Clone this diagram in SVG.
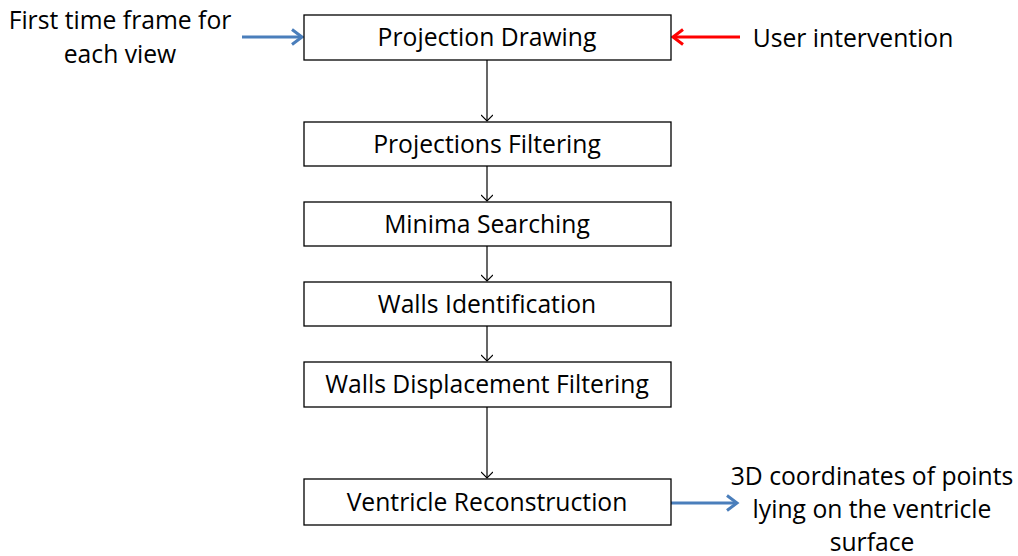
<svg xmlns="http://www.w3.org/2000/svg" width="1018" height="556" viewBox="0 0 1018 556">
<style>
.box{fill:#fff;stroke:#000;stroke-width:1.3}
.t{font-family:"Open Sans","Noto Sans",sans-serif;font-size:24.7px;fill:#000;text-anchor:middle}
.k{stroke:#000;stroke-width:1.2;fill:none}
.b{stroke:#4a7ebb;stroke-width:3;fill:none}
.r{stroke:#ff0000;stroke-width:3;fill:none}
</style>
<defs>
<marker id="ak" markerWidth="12" markerHeight="12" refX="10" refY="6" orient="auto" markerUnits="userSpaceOnUse"><path d="M4,0 L10,6 L4,12" fill="none" stroke="#000" stroke-width="1.2"/></marker>
<marker id="ab" markerWidth="18" markerHeight="18" refX="15" refY="9" orient="auto" markerUnits="userSpaceOnUse"><path d="M5,1.5 L15,9 L5,16.5" fill="none" stroke="#4a7ebb" stroke-width="3"/></marker>
<marker id="ar" markerWidth="18" markerHeight="18" refX="15" refY="9" orient="auto" markerUnits="userSpaceOnUse"><path d="M5,1.5 L15,9 L5,16.5" fill="none" stroke="#ff0000" stroke-width="3"/></marker>
</defs>
<g id="connectors">
<line class="b" x1="242" y1="37" x2="302" y2="37" marker-end="url(#ab)"/>
<line class="r" x1="740" y1="37" x2="673" y2="37" marker-end="url(#ar)"/>
<line class="k" x1="487" y1="60" x2="487" y2="121" marker-end="url(#ak)"/>
<line class="k" x1="487" y1="166" x2="487" y2="201" marker-end="url(#ak)"/>
<line class="k" x1="487" y1="246" x2="487" y2="281" marker-end="url(#ak)"/>
<line class="k" x1="487" y1="326" x2="487" y2="361" marker-end="url(#ak)"/>
<line class="k" x1="487" y1="407" x2="487" y2="478" marker-end="url(#ak)"/>
<line class="b" x1="671" y1="503" x2="737" y2="503" marker-end="url(#ab)"/>
</g>
<g id="n1"><rect class="box" x="304" y="15" width="367" height="45"/><text class="t" x="487" y="46">Projection Drawing</text></g>
<g id="n2"><rect class="box" x="304" y="122" width="367" height="44"/><text class="t" x="487" y="153">Projections Filtering</text></g>
<g id="n3"><rect class="box" x="304" y="202" width="367" height="44"/><text class="t" x="487" y="233">Minima Searching</text></g>
<g id="n4"><rect class="box" x="304" y="282" width="367" height="44"/><text class="t" x="487" y="313">Walls Identification</text></g>
<g id="n5"><rect class="box" x="304" y="362" width="367" height="45"/><text class="t" x="487" y="393">Walls Displacement Filtering</text></g>
<g id="n6"><rect class="box" x="304" y="479" width="367" height="46"/><text class="t" x="487" y="511">Ventricle Reconstruction</text></g>
<g id="input"><text class="t" x="120" y="29">First time frame for</text><text class="t" x="120" y="63">each view</text></g>
<g id="user"><text class="t" x="853" y="47">User intervention</text></g>
<g id="output"><text class="t" x="872" y="485">3D coordinates of points</text><text class="t" x="872" y="518">lying on the ventricle</text><text class="t" x="872" y="551">surface</text></g>
</svg>
